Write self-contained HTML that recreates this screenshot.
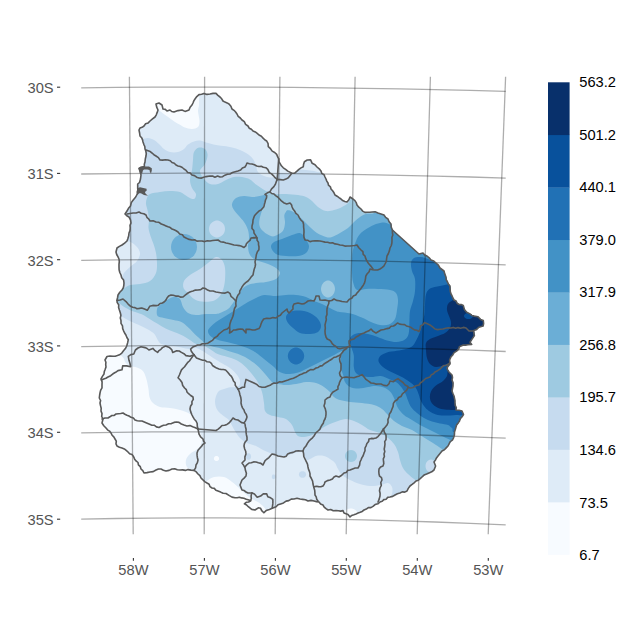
<!DOCTYPE html>
<html><head><meta charset="utf-8"><title>map</title>
<style>html,body{margin:0;padding:0;background:#fff}svg{display:block}text{font-family:"Liberation Sans",Arial,sans-serif}</style>
</head><body>
<svg width="630" height="630" viewBox="0 0 630 630">
<rect width="630" height="630" fill="#fff"/>
<defs><clipPath id="cp"><path d="M127.0,211.0 L130.5,206.0 L131.3,202.6 L133.0,200.2 L135.7,197.0 L137.0,194.5 L138.5,192.5 L137.7,188.5 L137.7,184.0 L139.5,182.5 L140.5,179.0 L141.0,175.0 L140.5,172.5 L139.0,168.5 L141.0,167.3 L144.4,166.5 L145.0,162.0 L146.0,156.0 L145.0,149.0 L143.0,142.0 L140.0,136.0 L139.0,130.0 L140.0,128.0 L144.0,126.0 L150.0,121.0 L155.0,117.0 L158.0,110.0 L156.0,104.0 L159.0,103.0 L162.0,105.0 L163.0,109.0 L167.0,111.0 L170.0,110.0 L174.0,112.0 L178.0,110.6 L182.0,110.0 L185.0,111.4 L189.0,110.0 L192.0,105.0 L195.0,99.0 L199.0,94.6 L204.0,93.4 L210.0,94.0 L216.0,93.4 L220.0,97.0 L223.0,101.0 L229.0,104.0 L232.0,109.0 L237.0,114.0 L242.0,120.0 L248.0,126.0 L253.0,131.0 L259.0,135.0 L265.0,140.0 L266.7,141.0 L268.3,146.7 L272.2,151.1 L276.7,154.4 L278.7,158.9 L280.0,163.3 L283.3,167.8 L287.8,171.1 L291.7,173.3 L294.4,173.3 L298.9,169.4 L303.3,166.7 L304.4,161.7 L307.2,160.0 L310.6,159.8 L312.2,163.3 L317.0,167.0 L321.0,171.0 L325.0,177.0 L328.0,183.0 L331.0,189.0 L335.0,195.0 L341.0,199.0 L347.0,202.0 L350.0,197.0 L353.0,199.0 L357.0,205.0 L361.0,209.0 L365.0,212.4 L372.0,212.0 L378.0,213.0 L384.0,215.0 L388.0,219.0 L391.0,224.0 L392.4,230.0 L419.0,254.0 L423.0,253.0 L427.0,256.0 L431.0,260.0 L436.0,263.0 L440.0,268.0 L444.0,271.0 L446.0,277.0 L447.5,282.0 L450.0,286.0 L451.0,294.0 L454.0,300.0 L459.0,304.5 L463.3,305.5 L464.4,309.4 L466.7,312.2 L470.0,313.9 L474.4,316.1 L477.8,316.7 L480.6,319.4 L483.3,320.6 L483.6,323.5 L483.1,326.1 L478.9,327.2 L476.7,329.4 L473.9,330.6 L474.4,335.6 L472.2,338.9 L470.0,342.2 L471.7,344.4 L467.8,344.7 L463.3,345.0 L459.4,346.7 L457.2,350.6 L453.9,352.8 L451.1,356.7 L449.6,360.0 L450.0,364.0 L447.0,368.0 L449.0,372.0 L452.0,375.0 L452.0,380.0 L453.0,386.0 L452.0,391.0 L454.0,396.0 L455.0,403.0 L456.0,410.0 L462.0,411.0 L463.5,414.5 L459.5,421.0 L456.0,427.0 L454.5,432.0 L453.5,438.0 L448.0,446.0 L442.0,451.0 L438.0,456.0 L434.0,462.0 L435.6,466.0 L434.0,470.0 L429.0,473.0 L422.0,477.0 L416.0,481.0 L410.0,486.0 L407.0,491.0 L400.0,493.0 L390.0,497.0 L380.0,502.0 L373.0,506.4 L364.0,510.0 L356.0,514.0 L350.0,517.0 L348.0,514.5 L344.0,513.0 L343.0,510.6 L336.0,510.6 L328.0,510.0 L323.0,505.0 L319.0,502.0 L314.0,501.0 L308.0,501.0 L300.0,499.0 L294.0,499.0 L286.1,501.1 L280.6,503.9 L276.1,506.7 L272.2,508.3 L269.4,509.4 L266.1,510.6 L263.9,512.8 L261.7,510.6 L260.6,508.3 L258.3,507.8 L255.0,510.0 L251.7,509.4 L248.3,506.7 L244.4,503.9 L250.6,500.8 L248.9,500.0 L243.9,498.3 L239.4,497.2 L235.0,497.8 L229.4,495.6 L226.0,493.5 L218.0,491.0 L212.0,488.0 L207.0,483.0 L201.0,478.0 L198.0,474.0 L194.0,470.4 L188.0,469.6 L180.0,470.0 L172.0,469.0 L166.0,471.0 L161.0,469.0 L156.0,470.0 L150.0,472.0 L144.0,473.0 L141.0,469.0 L138.0,462.5 L133.5,456.5 L128.0,452.0 L122.0,448.0 L117.0,446.0 L115.0,439.0 L111.0,433.0 L106.0,428.0 L102.0,423.0 L103.0,419.0 L101.0,411.0 L100.0,403.0 L100.0,393.0 L102.0,385.0 L101.0,379.0 L104.0,374.0 L106.0,367.0 L105.0,360.0 L107.0,356.5 L113.0,356.3 L119.5,354.8 L123.5,350.8 L126.7,346.0 L128.3,339.7 L125.9,335.0 L122.7,328.6 L121.0,320.6 L120.3,312.7 L118.7,304.8 L117.0,300.0 L118.0,295.0 L122.0,290.0 L124.0,283.0 L121.0,275.0 L119.0,267.0 L119.0,259.0 L116.0,252.0 L117.0,248.0 L122.0,245.0 L127.0,241.0 L129.0,233.0 L131.0,223.0 L129.0,217.0 L125.0,214.0Z"/></clipPath></defs>
<g clip-path="url(#cp)">
<rect x="90" y="85" width="410" height="445" fill="#deebf7"/>
<path d="M156.0,107.5 C157.3,109.3 158.6,109.8 160.0,111.0 C161.4,112.2 162.9,113.3 164.5,114.5 C166.1,115.7 167.8,116.8 169.5,118.0 C171.2,119.2 173.2,120.9 175.0,122.0 C176.8,123.1 178.3,123.9 180.0,124.8 C181.7,125.7 183.0,126.9 185.0,127.6 C187.0,128.3 189.8,129.1 192.0,129.0 C194.2,128.9 196.8,128.3 198.0,127.0 C199.2,125.7 199.5,123.7 199.5,121.0 C199.5,118.3 198.1,113.8 198.0,111.0 C197.9,108.2 199.2,107.2 199.0,104.0 C198.8,100.8 200.2,93.3 197.0,92.0 C193.8,90.7 186.2,95.3 180.0,96.0 C173.8,96.7 164.7,95.3 160.0,96.0 C155.3,96.7 152.7,98.1 152.0,100.0 C151.3,101.9 154.7,105.7 156.0,107.5Z" fill="#f7fbff"/>
<path d="M116.0,352.0 C120.2,350.2 118.8,353.5 120.0,354.5 C121.2,355.5 122.6,356.7 123.5,358.0 C124.4,359.3 124.4,361.2 125.5,362.5 C126.6,363.8 128.1,365.2 130.0,366.0 C131.9,366.8 134.8,366.6 137.0,367.5 C139.2,368.4 141.7,369.4 143.3,371.4 C144.9,373.4 145.6,376.5 146.5,379.4 C147.4,382.3 148.0,386.1 148.5,389.0 C149.0,391.9 148.8,394.7 149.5,397.0 C150.2,399.3 151.2,401.3 153.0,403.0 C154.8,404.7 157.2,406.2 160.0,407.0 C162.8,407.8 166.7,407.5 170.0,408.0 C173.3,408.5 176.7,409.0 180.0,410.0 C183.3,411.0 187.5,412.3 190.0,414.0 C192.5,415.7 193.7,417.7 195.0,420.0 C196.3,422.3 196.8,425.0 198.0,428.0 C199.2,431.0 201.7,435.0 202.0,438.0 C202.3,441.0 201.0,444.0 200.0,446.0 C199.0,448.0 197.7,448.7 196.0,450.0 C194.3,451.3 191.7,452.3 190.0,454.0 C188.3,455.7 186.5,457.8 186.0,460.0 C185.5,462.2 185.7,465.0 187.0,467.0 C188.3,469.0 192.8,469.8 194.0,472.0 C195.2,474.2 204.7,478.7 194.0,480.0 C183.3,481.3 146.5,486.7 130.0,480.0 C113.5,473.3 101.7,453.3 95.0,440.0 C88.3,426.7 90.0,412.5 90.0,400.0 C90.0,387.5 90.7,373.0 95.0,365.0 C99.3,357.0 111.8,353.8 116.0,352.0Z" fill="#f7fbff"/>
<path d="M205.0,484.0 C205.3,481.3 205.5,482.2 207.0,481.0 C208.5,479.8 211.2,477.7 214.0,477.0 C216.8,476.3 221.1,476.2 224.0,477.0 C226.9,477.8 229.3,480.0 231.7,481.7 C234.1,483.4 236.5,485.5 238.3,487.2 C240.2,488.9 241.0,490.0 242.8,491.7 C244.7,493.4 247.4,495.7 249.4,497.2 C251.4,498.7 253.1,499.5 255.0,500.6 C256.9,501.7 258.8,502.3 260.6,503.9 C262.4,505.5 265.1,507.8 266.0,510.0 C266.9,512.2 270.3,516.3 266.0,517.0 C261.7,517.7 250.2,517.3 240.0,514.0 C229.8,510.7 210.8,502.0 205.0,497.0 C199.2,492.0 204.7,486.7 205.0,484.0Z" fill="#f7fbff"/>
<path d="M219.1,458.5 C219.1,459.0 218.9,459.6 218.6,460.0 C218.3,460.4 217.8,460.8 217.3,461.0 C216.8,461.1 216.2,461.1 215.7,461.0 C215.2,460.8 214.7,460.4 214.4,460.0 C214.1,459.6 213.9,459.0 213.9,458.5 C213.9,458.0 214.1,457.4 214.4,457.0 C214.7,456.6 215.2,456.2 215.7,456.0 C216.2,455.9 216.8,455.9 217.3,456.0 C217.8,456.2 218.3,456.6 218.6,457.0 C218.9,457.4 219.1,458.0 219.1,458.5Z" fill="#f7fbff"/>
<path d="M344.0,512.0 C344.0,510.1 348.0,508.8 350.0,508.5 C352.0,508.2 354.7,509.2 356.0,510.5 C357.3,511.8 359.0,514.4 358.0,516.0 C357.0,517.6 352.3,520.7 350.0,520.0 C347.7,519.3 344.0,513.9 344.0,512.0Z" fill="#f7fbff"/>
<path d="M136.0,139.0 C140.6,137.2 140.4,139.2 142.4,139.0 C144.4,138.8 146.1,137.8 148.0,138.0 C149.9,138.2 152.2,139.0 154.0,140.0 C155.8,141.0 157.3,142.5 159.0,144.0 C160.7,145.5 162.2,147.7 164.0,149.0 C165.8,150.3 167.7,151.5 170.0,152.0 C172.3,152.5 175.7,152.5 178.0,152.0 C180.3,151.5 182.3,150.2 184.0,149.0 C185.7,147.8 186.3,145.8 188.0,144.5 C189.7,143.2 192.0,142.1 194.0,141.4 C196.0,140.8 198.0,140.4 200.0,140.6 C202.0,140.8 203.3,141.8 206.0,142.5 C208.7,143.2 212.7,144.4 216.0,145.0 C219.3,145.6 222.7,145.7 226.0,146.3 C229.3,146.9 232.7,147.5 236.0,148.6 C239.3,149.7 243.2,151.3 246.0,153.0 C248.8,154.7 251.3,156.8 253.0,159.0 C254.7,161.2 255.2,163.8 256.0,166.0 C256.8,168.2 256.7,170.3 258.0,172.0 C259.3,173.7 262.0,175.1 264.0,176.0 C266.0,176.9 268.0,177.4 270.0,177.5 C272.0,177.6 274.5,177.2 276.0,176.5 C277.5,175.8 276.3,173.5 279.0,173.0 C281.7,172.5 288.8,174.1 292.0,173.5 C295.2,172.9 295.7,170.2 298.0,169.6 C300.3,169.0 303.3,169.8 306.0,170.0 C308.7,170.2 311.3,170.6 314.0,171.0 C316.7,171.4 319.0,172.7 322.0,172.5 C325.0,172.3 315.7,165.4 332.0,170.0 C348.3,174.6 388.7,178.3 420.0,200.0 C451.3,221.7 503.3,263.3 520.0,300.0 C536.7,336.7 528.3,395.0 520.0,420.0 C511.7,445.0 485.0,438.3 470.0,450.0 C455.0,461.7 442.5,480.8 430.0,490.0 C417.5,499.2 402.5,502.5 395.0,505.0 C387.5,507.5 386.2,505.8 385.0,505.0 C383.8,504.2 386.8,501.8 388.0,500.0 C389.2,498.2 391.3,496.2 392.0,494.0 C392.7,491.8 392.7,488.8 392.0,487.0 C391.3,485.2 389.8,483.3 388.0,483.0 C386.2,482.7 384.0,484.5 381.0,485.0 C378.0,485.5 373.5,486.2 370.0,486.0 C366.5,485.8 363.3,485.0 360.0,484.0 C356.7,483.0 353.0,481.5 350.0,480.0 C347.0,478.5 344.0,476.8 342.0,475.0 C340.0,473.2 339.2,471.0 338.0,469.0 C336.8,467.0 336.3,464.7 335.0,463.0 C333.7,461.3 331.8,460.2 330.0,459.0 C328.2,457.8 326.3,456.5 324.0,456.0 C321.7,455.5 318.7,455.3 316.0,456.0 C313.3,456.7 309.8,459.7 308.0,460.0 C306.2,460.3 306.0,459.3 305.0,458.0 C304.0,456.7 303.8,452.8 302.0,452.0 C300.2,451.2 296.7,452.3 294.0,453.0 C291.3,453.7 288.7,455.5 286.0,456.0 C283.3,456.5 280.7,456.5 278.0,456.0 C275.3,455.5 272.5,454.0 270.0,453.0 C267.5,452.0 265.3,451.2 263.0,450.0 C260.7,448.8 258.7,447.2 256.0,446.0 C253.3,444.8 249.7,444.3 247.0,443.0 C244.3,441.7 242.0,440.0 240.0,438.0 C238.0,436.0 236.7,433.7 235.0,431.0 C233.3,428.3 231.2,424.0 230.0,422.0 C228.8,420.0 229.8,420.8 227.8,419.0 C225.8,417.2 220.1,413.9 218.0,411.0 C215.9,408.1 215.0,404.6 215.0,401.4 C215.0,398.2 216.5,394.1 218.0,392.0 C219.5,389.9 221.9,389.8 224.0,389.0 C226.1,388.2 227.9,387.7 230.3,387.3 C232.7,386.9 236.7,387.6 238.3,386.5 C239.9,385.4 240.3,383.0 240.0,381.0 C239.7,379.0 238.3,376.7 236.7,374.6 C235.1,372.5 232.7,370.2 230.3,368.3 C227.9,366.4 225.1,365.1 222.4,363.5 C219.8,361.9 217.3,360.6 214.4,358.7 C211.5,356.8 207.6,354.0 205.0,352.4 C202.4,350.8 200.8,349.8 199.0,349.0 C197.2,348.2 195.6,347.4 194.0,347.4 C192.4,347.4 191.5,349.0 189.4,349.0 C187.3,349.0 184.1,348.1 181.4,347.6 C178.8,347.1 175.9,346.4 173.5,346.0 C171.1,345.6 169.1,345.6 167.0,345.2 C164.9,344.8 162.4,344.6 160.8,343.7 C159.2,342.8 158.7,341.3 157.6,339.7 C156.5,338.1 156.0,335.7 154.4,334.0 C152.8,332.3 150.4,330.8 148.0,329.4 C145.6,328.0 142.7,326.6 140.0,325.4 C137.3,324.2 134.3,323.1 132.0,322.0 C129.7,320.9 128.0,320.0 126.0,319.0 C124.0,318.0 123.3,316.8 120.3,316.0 C117.3,315.2 111.4,320.0 108.0,314.0 C104.6,308.0 100.5,299.0 100.0,280.0 C99.5,261.0 102.5,221.7 105.0,200.0 C107.5,178.3 109.8,160.2 115.0,150.0 C120.2,139.8 131.4,140.8 136.0,139.0Z" fill="#c6dbef"/>
<path d="M112.0,240.0 C115.0,233.8 124.0,240.0 128.0,241.0 C132.0,242.0 134.0,244.0 136.0,246.0 C138.0,248.0 139.8,250.5 140.0,253.0 C140.2,255.5 138.7,258.7 137.0,261.0 C135.3,263.3 132.2,265.0 130.0,267.0 C127.8,269.0 125.5,271.0 124.0,273.0 C122.5,275.0 123.3,278.2 121.0,279.0 C118.7,279.8 111.5,284.5 110.0,278.0 C108.5,271.5 109.0,246.2 112.0,240.0Z" fill="#deebf7"/>
<path d="M275.4,476.8 C275.4,477.3 275.3,477.8 275.1,478.2 C274.8,478.6 274.5,478.9 274.2,479.1 C273.8,479.2 273.4,479.2 273.0,479.1 C272.7,478.9 272.4,478.6 272.1,478.2 C271.9,477.8 271.8,477.3 271.8,476.8 C271.8,476.3 271.9,475.8 272.1,475.4 C272.4,475.0 272.7,474.7 273.0,474.5 C273.4,474.4 273.8,474.4 274.2,474.5 C274.5,474.7 274.8,475.0 275.1,475.4 C275.3,475.8 275.4,476.3 275.4,476.8Z" fill="#c6dbef"/>
<path d="M306.1,474.5 C306.1,475.2 305.8,476.0 305.4,476.5 C305.0,477.0 304.3,477.5 303.6,477.7 C302.9,477.9 302.1,477.9 301.4,477.7 C300.7,477.5 300.0,477.0 299.6,476.5 C299.2,476.0 298.9,475.2 298.9,474.5 C298.9,473.8 299.2,473.0 299.6,472.5 C300.0,472.0 300.7,471.5 301.4,471.3 C302.1,471.1 302.9,471.1 303.6,471.3 C304.3,471.5 305.0,472.0 305.4,472.5 C305.8,473.0 306.1,473.8 306.1,474.5Z" fill="#c6dbef"/>
<path d="M251.1,456.5 C251.1,457.2 250.9,458.0 250.6,458.5 C250.3,459.0 249.8,459.5 249.3,459.7 C248.8,459.9 248.2,459.9 247.7,459.7 C247.2,459.5 246.7,459.0 246.4,458.5 C246.1,458.0 245.9,457.2 245.9,456.5 C245.9,455.8 246.1,455.0 246.4,454.5 C246.7,454.0 247.2,453.5 247.7,453.3 C248.2,453.1 248.8,453.1 249.3,453.3 C249.8,453.5 250.3,454.0 250.6,454.5 C250.9,455.0 251.1,455.8 251.1,456.5Z" fill="#c6dbef"/>
<path d="M112.0,297.0 C112.5,299.5 116.4,301.2 118.7,303.0 C121.0,304.8 123.8,306.7 126.0,308.0 C128.2,309.3 129.4,309.9 132.0,311.0 C134.6,312.1 138.8,313.0 141.7,314.3 C144.6,315.6 147.0,317.4 149.7,319.0 C152.3,320.6 154.9,322.2 157.6,323.8 C160.2,325.4 162.9,327.3 165.6,328.6 C168.2,329.9 170.9,330.6 173.5,331.7 C176.1,332.8 178.8,333.7 181.4,335.0 C184.1,336.3 187.0,338.2 189.4,339.7 C191.8,341.1 193.6,342.9 195.7,343.7 C197.8,344.5 199.4,343.5 201.7,344.4 C204.0,345.3 207.0,347.4 209.7,349.0 C212.3,350.6 214.7,352.7 217.6,354.0 C220.5,355.3 223.8,355.8 227.0,356.8 C230.2,357.9 233.8,358.8 236.7,360.3 C239.6,361.8 242.1,363.6 244.6,365.9 C247.1,368.1 249.5,371.0 251.7,373.8 C253.9,376.6 256.3,379.5 258.0,382.5 C259.7,385.5 261.0,388.6 262.0,392.0 C263.0,395.4 263.5,399.8 264.0,403.0 C264.5,406.2 264.0,409.0 265.0,411.0 C266.0,413.0 267.8,414.0 270.0,415.0 C272.2,416.0 275.3,416.3 278.0,417.0 C280.7,417.7 283.7,417.7 286.0,419.0 C288.3,420.3 290.5,422.8 292.0,425.0 C293.5,427.2 294.0,430.2 295.0,432.0 C296.0,433.8 296.5,435.2 298.0,436.0 C299.5,436.8 301.7,437.2 304.0,437.0 C306.3,436.8 309.7,436.0 312.0,435.0 C314.3,434.0 316.0,432.3 318.0,431.0 C320.0,429.7 322.0,428.2 324.0,427.0 C326.0,425.8 327.7,425.0 330.0,424.0 C332.3,423.0 335.3,421.8 338.0,421.0 C340.7,420.2 343.3,419.0 346.0,419.0 C348.7,419.0 351.3,420.0 354.0,421.0 C356.7,422.0 359.3,423.5 362.0,425.0 C364.7,426.5 367.0,428.7 370.0,430.0 C373.0,431.3 377.0,431.7 380.0,433.0 C383.0,434.3 385.7,436.2 388.0,438.0 C390.3,439.8 392.3,441.7 394.0,444.0 C395.7,446.3 397.0,449.3 398.0,452.0 C399.0,454.7 399.2,457.3 400.0,460.0 C400.8,462.7 401.7,465.7 403.0,468.0 C404.3,470.3 406.2,472.2 408.0,474.0 C409.8,475.8 412.2,477.8 414.0,479.0 C415.8,480.2 415.5,480.8 419.0,481.0 C422.5,481.2 424.8,486.8 435.0,480.0 C445.2,473.2 465.8,453.3 480.0,440.0 C494.2,426.7 513.3,423.3 520.0,400.0 C526.7,376.7 536.7,335.0 520.0,300.0 C503.3,265.0 446.7,208.3 420.0,190.0 C393.3,171.7 371.3,188.8 360.0,190.0 C348.7,191.2 354.0,194.8 352.0,197.0 C350.0,199.2 349.7,201.3 348.0,203.0 C346.3,204.7 344.3,205.8 342.0,207.0 C339.7,208.2 336.7,209.3 334.0,210.0 C331.3,210.7 328.7,211.5 326.0,211.0 C323.3,210.5 320.3,208.7 318.0,207.0 C315.7,205.3 314.0,202.7 312.0,201.0 C310.0,199.3 308.3,198.0 306.0,197.0 C303.7,196.0 301.3,195.5 298.0,195.0 C294.7,194.5 289.7,194.2 286.0,194.0 C282.3,193.8 279.3,194.5 276.0,194.0 C272.7,193.5 269.3,192.6 266.0,191.0 C262.7,189.4 258.7,186.4 256.0,184.5 C253.3,182.6 252.3,180.8 250.0,179.5 C247.7,178.2 244.7,177.4 242.0,177.0 C239.3,176.6 236.7,176.5 234.0,177.0 C231.3,177.5 228.7,178.8 226.0,180.0 C223.3,181.2 220.7,183.3 218.0,184.0 C215.3,184.7 212.3,184.8 210.0,184.0 C207.7,183.2 205.7,181.2 204.0,179.0 C202.3,176.8 199.8,173.5 200.0,171.0 C200.2,168.5 203.7,166.7 205.0,164.0 C206.3,161.3 207.6,157.5 207.6,155.0 C207.6,152.5 206.4,150.2 205.0,149.0 C203.6,147.8 200.8,147.1 199.0,147.6 C197.2,148.1 195.0,149.9 194.0,152.0 C193.0,154.1 193.3,157.0 193.0,160.0 C192.7,163.0 192.5,166.7 192.0,170.0 C191.5,173.3 190.0,177.0 190.0,180.0 C190.0,183.0 191.0,185.7 192.0,188.0 C193.0,190.3 195.7,192.2 196.0,194.0 C196.3,195.8 195.3,198.5 194.0,199.0 C192.7,199.5 190.3,198.2 188.0,197.0 C185.7,195.8 183.0,193.0 180.0,192.0 C177.0,191.0 173.3,191.0 170.0,191.0 C166.7,191.0 163.3,191.5 160.0,192.0 C156.7,192.5 152.2,193.0 150.0,194.0 C147.8,195.0 147.7,196.3 147.0,198.0 C146.3,199.7 145.8,201.7 146.0,204.0 C146.2,206.3 147.5,209.3 148.0,212.0 C148.5,214.7 148.9,217.3 149.0,220.0 C149.1,222.7 148.2,225.3 148.5,228.0 C148.8,230.7 149.7,233.3 150.5,236.0 C151.3,238.7 152.6,241.2 153.5,244.0 C154.4,246.8 155.4,249.8 156.0,253.0 C156.6,256.2 157.0,259.7 157.0,263.0 C157.0,266.3 157.2,270.0 156.0,273.0 C154.8,276.0 152.7,279.2 150.0,281.0 C147.3,282.8 143.3,283.3 140.0,284.0 C136.7,284.7 132.7,284.3 130.0,285.0 C127.3,285.7 126.3,287.5 124.0,288.0 C121.7,288.5 118.0,286.5 116.0,288.0 C114.0,289.5 111.5,294.5 112.0,297.0Z" fill="#9ecae1"/>
<path d="M225.0,229.0 C225.0,230.2 224.7,231.6 224.2,232.7 C223.7,233.8 222.9,234.9 222.0,235.6 C221.1,236.4 219.9,237.0 218.8,237.3 C217.7,237.6 216.3,237.6 215.2,237.3 C214.1,237.0 212.9,236.4 212.0,235.6 C211.1,234.9 210.3,233.8 209.8,232.7 C209.3,231.6 209.0,230.2 209.0,229.0 C209.0,227.8 209.3,226.4 209.8,225.3 C210.3,224.2 211.1,223.1 212.0,222.4 C212.9,221.6 214.1,221.0 215.2,220.7 C216.3,220.4 217.7,220.4 218.8,220.7 C219.9,221.0 221.1,221.6 222.0,222.4 C222.9,223.1 223.7,224.2 224.2,225.3 C224.7,226.4 225.0,227.8 225.0,229.0Z" fill="#c6dbef"/>
<path d="M216.0,257.0 C218.3,256.5 220.5,258.2 222.0,260.0 C223.5,261.8 224.5,264.7 225.0,268.0 C225.5,271.3 225.3,276.3 225.0,280.0 C224.7,283.7 224.0,287.2 223.0,290.0 C222.0,292.8 220.7,295.2 219.0,297.0 C217.3,298.8 215.8,300.2 213.0,301.0 C210.2,301.8 205.2,301.8 202.0,301.5 C198.8,301.2 196.3,300.4 194.0,299.0 C191.7,297.6 189.8,294.8 188.0,293.0 C186.2,291.2 184.2,290.0 183.5,288.0 C182.8,286.0 182.9,283.2 184.0,281.0 C185.1,278.8 187.3,277.0 190.0,275.0 C192.7,273.0 197.0,271.0 200.0,269.0 C203.0,267.0 205.3,265.0 208.0,263.0 C210.7,261.0 213.7,257.5 216.0,257.0Z" fill="#c6dbef"/>
<path d="M436.5,466.0 C436.5,467.1 436.2,468.3 435.8,469.2 C435.3,470.2 434.5,471.1 433.8,471.6 C433.0,472.2 431.9,472.5 431.0,472.5 C430.1,472.5 429.0,472.2 428.2,471.6 C427.5,471.1 426.7,470.2 426.2,469.2 C425.8,468.3 425.5,467.1 425.5,466.0 C425.5,464.9 425.8,463.7 426.2,462.8 C426.7,461.8 427.5,460.9 428.2,460.4 C429.0,459.8 430.1,459.5 431.0,459.5 C431.9,459.5 433.0,459.8 433.8,460.4 C434.5,460.9 435.3,461.8 435.8,462.8 C436.2,463.7 436.5,464.9 436.5,466.0Z" fill="#c6dbef"/>
<path d="M357.0,456.0 C357.0,457.0 356.7,458.1 356.2,459.0 C355.7,459.9 354.9,460.7 354.0,461.2 C353.1,461.7 352.0,462.0 351.0,462.0 C350.0,462.0 348.9,461.7 348.0,461.2 C347.1,460.7 346.3,459.9 345.8,459.0 C345.3,458.1 345.0,457.0 345.0,456.0 C345.0,455.0 345.3,453.9 345.8,453.0 C346.3,452.1 347.1,451.3 348.0,450.8 C348.9,450.3 350.0,450.0 351.0,450.0 C352.0,450.0 353.1,450.3 354.0,450.8 C354.9,451.3 355.7,452.1 356.2,453.0 C356.7,453.9 357.0,455.0 357.0,456.0Z" fill="#9ecae1"/>
<path d="M380.0,205.0 C369.0,207.2 376.3,211.5 374.0,213.0 C371.7,214.5 368.3,213.3 366.0,214.0 C363.7,214.7 362.0,215.7 360.0,217.0 C358.0,218.3 356.0,220.2 354.0,222.0 C352.0,223.8 350.3,226.2 348.0,228.0 C345.7,229.8 342.7,231.5 340.0,233.0 C337.3,234.5 334.3,236.3 332.0,237.0 C329.7,237.7 328.5,237.7 326.0,237.0 C323.5,236.3 319.5,234.5 317.0,233.0 C314.5,231.5 312.9,229.7 311.0,228.0 C309.1,226.3 307.6,224.7 305.9,223.0 C304.2,221.3 302.9,219.9 300.8,218.0 C298.7,216.1 295.1,213.0 293.0,211.7 C290.9,210.4 289.2,210.3 288.0,210.3 C286.8,210.3 286.6,210.8 286.0,211.7 C285.4,212.6 284.5,213.6 284.3,215.5 C284.1,217.4 285.2,220.4 285.0,223.0 C284.8,225.6 284.2,228.9 283.0,230.8 C281.8,232.7 279.7,233.7 278.0,234.6 C276.3,235.5 274.6,236.5 272.9,236.5 C271.2,236.5 269.5,235.5 267.8,234.6 C266.1,233.7 264.1,232.3 262.7,230.8 C261.3,229.3 260.0,227.6 259.5,225.7 C259.0,223.8 259.1,221.9 259.5,219.4 C259.9,216.9 261.1,213.5 262.0,210.5 C262.9,207.5 263.9,204.3 264.6,201.6 C265.4,198.9 266.9,195.5 266.5,194.5 C266.1,193.5 263.6,195.2 262.0,195.5 C260.4,195.8 258.7,196.2 257.0,196.5 C255.3,196.8 254.2,197.1 252.0,197.0 C249.8,196.9 246.7,195.8 244.0,196.0 C241.3,196.2 238.0,196.7 236.0,198.0 C234.0,199.3 232.3,202.0 232.0,204.0 C231.7,206.0 232.8,208.0 234.0,210.0 C235.2,212.0 237.3,214.0 239.0,216.0 C240.7,218.0 242.5,219.7 244.0,222.0 C245.5,224.3 247.2,227.3 248.0,230.0 C248.8,232.7 249.0,235.2 249.0,238.0 C249.0,240.8 247.8,244.2 248.0,247.0 C248.2,249.8 248.7,252.8 250.0,255.0 C251.3,257.2 253.0,258.5 256.0,260.0 C259.0,261.5 264.7,262.7 268.0,264.0 C271.3,265.3 274.0,266.5 276.0,268.0 C278.0,269.5 280.0,271.2 280.0,273.0 C280.0,274.8 278.3,277.5 276.0,279.0 C273.7,280.5 269.3,281.3 266.0,282.0 C262.7,282.7 259.0,282.5 256.0,283.0 C253.0,283.5 250.3,284.0 248.0,285.0 C245.7,286.0 243.8,287.0 242.0,289.0 C240.2,291.0 238.5,294.7 237.0,297.0 C235.5,299.3 234.5,301.0 233.0,303.0 C231.5,305.0 230.2,307.3 228.0,309.0 C225.8,310.7 222.0,312.2 220.0,313.0 C218.0,313.8 218.3,313.8 216.0,314.0 C213.7,314.2 209.3,313.8 206.0,314.0 C202.7,314.2 199.0,315.2 196.0,315.0 C193.0,314.8 190.2,314.3 188.0,313.0 C185.8,311.7 184.3,309.3 183.0,307.0 C181.7,304.7 181.5,300.7 180.0,299.0 C178.5,297.3 176.2,296.8 174.0,297.0 C171.8,297.2 169.3,298.7 167.0,300.0 C164.7,301.3 161.7,303.5 160.0,305.0 C158.3,306.5 157.4,307.2 157.0,309.0 C156.6,310.8 156.4,314.5 157.6,316.0 C158.8,317.5 161.3,317.3 164.0,318.0 C166.7,318.7 170.6,319.3 173.5,320.0 C176.4,320.7 179.0,320.8 181.4,322.0 C183.8,323.2 186.0,325.4 187.8,327.0 C189.7,328.6 190.9,330.1 192.5,331.7 C194.1,333.3 195.7,335.0 197.3,336.5 C198.9,338.0 200.9,339.5 202.0,340.5 C203.1,341.5 202.5,341.6 204.0,342.5 C205.5,343.4 208.2,345.0 211.0,346.0 C213.8,347.0 217.8,347.5 221.0,348.4 C224.2,349.3 226.8,350.5 230.0,351.6 C233.2,352.7 237.0,353.6 240.0,354.8 C243.0,356.0 245.2,357.1 247.8,358.7 C250.4,360.3 253.3,362.3 255.7,364.3 C258.1,366.3 260.0,368.5 262.0,370.6 C264.0,372.7 265.8,374.9 267.6,377.0 C269.4,379.1 271.3,381.8 273.0,383.0 C274.7,384.2 275.8,383.7 278.0,384.0 C280.2,384.3 283.0,385.0 286.0,385.0 C289.0,385.0 292.7,384.5 296.0,384.0 C299.3,383.5 302.7,382.2 306.0,382.0 C309.3,381.8 313.0,382.2 316.0,383.0 C319.0,383.8 321.7,385.5 324.0,387.0 C326.3,388.5 328.3,390.3 330.0,392.0 C331.7,393.7 332.3,395.7 334.0,397.0 C335.7,398.3 337.3,399.2 340.0,400.0 C342.7,400.8 346.3,401.5 350.0,402.0 C353.7,402.5 358.0,402.5 362.0,403.0 C366.0,403.5 370.7,404.0 374.0,405.0 C377.3,406.0 379.7,407.3 382.0,409.0 C384.3,410.7 386.0,413.0 388.0,415.0 C390.0,417.0 391.7,419.2 394.0,421.0 C396.3,422.8 399.0,424.5 402.0,426.0 C405.0,427.5 409.0,428.5 412.0,430.0 C415.0,431.5 417.3,433.3 420.0,435.0 C422.7,436.7 425.3,438.3 428.0,440.0 C430.7,441.7 433.7,443.5 436.0,445.0 C438.3,446.5 439.7,447.8 442.0,449.0 C444.3,450.2 442.0,455.2 450.0,452.0 C458.0,448.8 478.3,442.0 490.0,430.0 C501.7,418.0 515.0,405.0 520.0,380.0 C525.0,355.0 533.3,310.0 520.0,280.0 C506.7,250.0 463.3,212.5 440.0,200.0 C416.7,187.5 391.0,202.8 380.0,205.0Z" fill="#6baed6"/>
<path d="M197.0,247.0 C197.0,248.7 196.6,250.4 196.0,252.0 C195.4,253.5 194.4,255.0 193.2,256.2 C192.0,257.4 190.5,258.4 189.0,259.0 C187.4,259.6 185.7,260.0 184.0,260.0 C182.3,260.0 180.6,259.6 179.0,259.0 C177.5,258.4 176.0,257.4 174.8,256.2 C173.6,255.0 172.6,253.5 172.0,252.0 C171.4,250.4 171.0,248.7 171.0,247.0 C171.0,245.3 171.4,243.6 172.0,242.0 C172.6,240.5 173.6,239.0 174.8,237.8 C176.0,236.6 177.5,235.6 179.0,235.0 C180.6,234.4 182.3,234.0 184.0,234.0 C185.7,234.0 187.4,234.4 189.0,235.0 C190.5,235.6 192.0,236.6 193.2,237.8 C194.4,239.0 195.4,240.5 196.0,242.0 C196.6,243.6 197.0,245.3 197.0,247.0Z" fill="#6baed6"/>
<path d="M335.0,289.0 C335.0,290.2 334.7,291.6 334.3,292.6 C333.9,293.7 333.2,294.8 332.4,295.6 C331.6,296.3 330.5,296.9 329.6,297.2 C328.6,297.5 327.4,297.5 326.4,297.2 C325.5,296.9 324.4,296.3 323.6,295.6 C322.8,294.8 322.1,293.7 321.7,292.6 C321.3,291.6 321.0,290.2 321.0,289.0 C321.0,287.8 321.3,286.4 321.7,285.4 C322.1,284.3 322.8,283.2 323.6,282.4 C324.4,281.7 325.5,281.1 326.4,280.8 C327.4,280.5 328.6,280.5 329.6,280.8 C330.5,281.1 331.6,281.7 332.4,282.4 C333.2,283.2 333.9,284.3 334.3,285.4 C334.7,286.4 335.0,287.8 335.0,289.0Z" fill="#9ecae1"/>
<path d="M396.0,218.0 C387.8,218.7 393.0,223.3 391.0,224.0 C389.0,224.7 386.5,222.4 384.0,222.4 C381.5,222.4 378.7,223.1 376.0,224.0 C373.3,224.9 370.7,226.3 368.0,228.0 C365.3,229.7 362.0,231.8 360.0,234.0 C358.0,236.2 357.2,238.3 356.0,241.0 C354.8,243.7 353.7,246.7 353.0,250.0 C352.3,253.3 352.2,257.3 352.0,261.0 C351.8,264.7 351.8,268.5 352.0,272.0 C352.2,275.5 352.2,279.0 353.0,282.0 C353.8,285.0 354.8,288.8 357.0,290.0 C359.2,291.2 362.5,289.2 366.0,289.0 C369.5,288.8 374.0,288.8 378.0,289.0 C382.0,289.2 387.0,289.3 390.0,290.0 C393.0,290.7 394.7,291.3 396.0,293.0 C397.3,294.7 397.8,297.2 398.0,300.0 C398.2,302.8 397.5,306.8 397.0,310.0 C396.5,313.2 396.3,316.6 395.0,319.0 C393.7,321.4 391.5,323.5 389.0,324.5 C386.5,325.5 383.0,325.4 380.0,325.0 C377.0,324.6 374.1,323.2 371.0,322.0 C367.9,320.8 365.1,318.9 361.7,317.5 C358.3,316.1 354.3,314.4 350.6,313.5 C346.9,312.6 341.9,312.4 339.5,312.0 C337.1,311.6 337.9,311.8 336.0,311.0 C334.1,310.2 330.3,308.2 328.0,307.0 C325.7,305.8 324.3,305.0 322.0,304.0 C319.7,303.0 316.7,302.2 314.0,301.0 C311.3,299.8 309.0,298.0 306.0,297.0 C303.0,296.0 299.3,295.3 296.0,295.0 C292.7,294.7 289.3,294.8 286.0,295.0 C282.7,295.2 279.7,296.0 276.0,296.0 C272.3,296.0 267.3,294.7 264.0,295.0 C260.7,295.3 258.7,296.8 256.0,298.0 C253.3,299.2 250.7,300.5 248.0,302.0 C245.3,303.5 242.7,305.3 240.0,307.0 C237.3,308.7 234.7,310.3 232.0,312.0 C229.3,313.7 226.7,315.3 224.0,317.0 C221.3,318.7 218.4,320.2 216.0,322.0 C213.6,323.8 211.0,326.2 209.7,327.8 C208.4,329.4 207.8,330.2 208.0,331.7 C208.2,333.1 209.4,335.2 211.0,336.5 C212.6,337.8 214.9,338.8 217.6,339.7 C220.3,340.6 223.8,341.2 227.0,342.0 C230.2,342.8 233.5,343.5 236.7,344.4 C239.9,345.3 242.8,346.3 246.0,347.6 C249.2,348.9 252.8,350.5 255.7,352.4 C258.6,354.2 261.5,356.9 263.7,358.7 C265.9,360.5 267.3,361.6 269.0,363.0 C270.7,364.4 272.5,365.7 274.0,367.0 C275.5,368.3 276.0,369.8 278.0,371.0 C280.0,372.2 283.0,373.7 286.0,374.0 C289.0,374.3 293.0,373.7 296.0,373.0 C299.0,372.3 301.3,371.2 304.0,370.0 C306.7,368.8 309.3,367.3 312.0,366.0 C314.7,364.7 317.3,363.3 320.0,362.0 C322.7,360.7 325.3,359.3 328.0,358.0 C330.7,356.7 333.7,355.1 336.0,354.0 C338.3,352.9 341.2,350.8 342.0,351.5 C342.8,352.2 341.2,355.2 341.0,358.0 C340.8,360.8 340.6,365.0 341.0,368.0 C341.4,371.0 342.8,373.7 343.5,376.0 C344.2,378.3 343.9,380.2 345.0,382.0 C346.1,383.8 347.7,385.9 350.0,387.0 C352.3,388.1 355.6,388.5 358.6,388.5 C361.6,388.5 365.1,387.4 368.0,387.0 C370.9,386.6 373.3,385.9 376.0,386.0 C378.7,386.1 381.7,386.6 384.0,387.5 C386.3,388.4 388.3,389.8 390.0,391.5 C391.7,393.2 392.7,395.2 394.0,398.0 C395.3,400.8 396.3,405.2 398.0,408.0 C399.7,410.8 401.7,413.0 404.0,415.0 C406.3,417.0 409.3,418.3 412.0,420.0 C414.7,421.7 417.3,423.5 420.0,425.0 C422.7,426.5 425.3,427.7 428.0,429.0 C430.7,430.3 433.3,431.7 436.0,433.0 C438.7,434.3 441.3,435.8 444.0,437.0 C446.7,438.2 449.0,439.6 452.0,440.4 C455.0,441.2 454.0,445.4 462.0,442.0 C470.0,438.6 490.3,433.7 500.0,420.0 C509.7,406.3 516.7,383.3 520.0,360.0 C523.3,336.7 533.3,303.3 520.0,280.0 C506.7,256.7 460.7,230.3 440.0,220.0 C419.3,209.7 404.2,217.3 396.0,218.0Z" fill="#4292c6"/>
<path d="M271.0,247.0 C270.7,245.0 272.2,243.3 274.0,242.0 C275.8,240.7 279.0,240.2 282.0,239.0 C285.0,237.8 289.0,236.0 292.0,235.0 C295.0,234.0 297.8,232.5 300.0,233.0 C302.2,233.5 303.5,235.8 305.0,238.0 C306.5,240.2 308.8,243.5 309.0,246.0 C309.2,248.5 307.8,251.3 306.0,253.0 C304.2,254.7 301.3,255.5 298.0,256.0 C294.7,256.5 289.7,256.3 286.0,256.0 C282.3,255.7 278.5,255.5 276.0,254.0 C273.5,252.5 271.3,249.0 271.0,247.0Z" fill="#4292c6"/>
<path d="M436.0,254.0 C429.5,254.0 432.3,259.2 431.0,260.0 C429.7,260.8 429.7,259.5 428.0,259.0 C426.3,258.5 423.3,257.2 421.0,257.0 C418.7,256.8 415.7,257.0 414.0,258.0 C412.3,259.0 411.3,260.8 411.0,263.0 C410.7,265.2 411.3,268.3 412.0,271.0 C412.7,273.7 414.5,275.7 415.0,279.0 C415.5,282.3 415.3,287.3 415.0,291.0 C414.7,294.7 413.8,297.7 413.0,301.0 C412.2,304.3 410.6,307.5 410.0,311.0 C409.4,314.5 409.6,318.2 409.4,322.0 C409.2,325.8 409.4,331.1 408.6,334.0 C407.8,336.9 406.6,338.4 404.6,339.7 C402.6,341.0 399.6,341.9 396.7,342.0 C393.8,342.1 390.2,341.3 387.0,340.5 C383.8,339.7 380.8,338.1 377.6,337.0 C374.4,335.9 371.2,334.7 368.0,334.0 C364.8,333.3 361.3,332.7 358.6,333.0 C355.9,333.3 353.5,334.6 352.0,335.7 C350.5,336.8 349.9,337.7 349.8,339.7 C349.7,341.7 350.7,345.0 351.4,347.6 C352.1,350.2 353.4,352.4 353.8,355.6 C354.2,358.8 353.4,363.8 353.8,366.7 C354.2,369.6 354.7,371.4 356.0,373.0 C357.3,374.6 359.2,375.3 361.7,376.0 C364.2,376.7 367.8,377.0 371.0,377.0 C374.2,377.0 377.6,375.6 380.8,376.0 C384.0,376.4 387.4,378.3 390.0,379.4 C392.6,380.5 394.8,381.2 396.7,382.5 C398.6,383.8 399.9,385.4 401.4,387.3 C402.8,389.2 404.3,391.6 405.4,393.7 C406.5,395.8 406.9,397.8 407.8,400.0 C408.7,402.2 409.5,404.8 411.0,407.0 C412.5,409.2 414.8,411.2 417.0,413.0 C419.2,414.8 421.5,416.6 424.0,418.0 C426.5,419.4 429.3,420.7 432.0,421.6 C434.7,422.5 437.3,423.0 440.0,423.6 C442.7,424.2 446.0,424.3 448.0,425.0 C450.0,425.7 450.3,427.0 452.0,428.0 C453.7,429.0 450.0,434.0 458.0,431.0 C466.0,428.0 489.7,421.8 500.0,410.0 C510.3,398.2 516.7,378.3 520.0,360.0 C523.3,341.7 528.3,316.7 520.0,300.0 C511.7,283.3 484.0,267.7 470.0,260.0 C456.0,252.3 442.5,254.0 436.0,254.0Z" fill="#2171b5"/>
<path d="M286.0,317.0 C286.3,315.2 287.7,313.1 290.0,312.0 C292.3,310.9 296.7,310.4 300.0,310.6 C303.3,310.8 307.0,311.6 310.0,313.0 C313.0,314.4 316.2,316.8 318.0,319.0 C319.8,321.2 321.0,323.8 321.0,326.0 C321.0,328.2 319.8,330.7 318.0,332.0 C316.2,333.3 313.0,333.8 310.0,334.0 C307.0,334.2 302.8,334.0 300.0,333.0 C297.2,332.0 295.0,329.7 293.0,328.0 C291.0,326.3 289.2,324.8 288.0,323.0 C286.8,321.2 285.7,318.8 286.0,317.0Z" fill="#2171b5"/>
<path d="M304.2,356.0 C304.2,357.2 303.9,358.6 303.4,359.6 C302.9,360.7 302.0,361.8 301.1,362.6 C300.2,363.3 299.0,363.9 297.8,364.2 C296.7,364.5 295.3,364.5 294.2,364.2 C293.0,363.9 291.8,363.3 290.9,362.6 C290.0,361.8 289.1,360.7 288.6,359.6 C288.1,358.6 287.8,357.2 287.8,356.0 C287.8,354.8 288.1,353.4 288.6,352.4 C289.1,351.3 290.0,350.2 290.9,349.4 C291.8,348.7 293.0,348.1 294.2,347.8 C295.3,347.5 296.7,347.5 297.8,347.8 C299.0,348.1 300.2,348.7 301.1,349.4 C302.0,350.2 302.9,351.3 303.4,352.4 C303.9,353.4 304.2,354.8 304.2,356.0Z" fill="#2171b5"/>
<path d="M454.0,280.0 C445.5,277.3 451.3,283.0 449.0,284.0 C446.7,285.0 443.2,285.2 440.0,286.0 C436.8,286.8 432.3,287.1 430.0,288.5 C427.7,289.9 426.8,291.8 426.0,294.5 C425.2,297.2 425.2,301.8 425.0,305.0 C424.8,308.2 424.9,310.9 424.5,314.0 C424.1,317.1 423.2,320.5 422.5,323.5 C421.8,326.5 421.0,329.3 420.0,332.0 C419.0,334.7 417.8,337.4 416.5,339.7 C415.2,342.0 414.2,344.4 412.5,346.0 C410.8,347.6 408.6,348.2 406.0,349.0 C403.4,349.8 399.9,350.2 396.7,350.8 C393.5,351.4 389.6,351.6 387.0,352.4 C384.4,353.2 382.2,354.3 380.8,355.6 C379.4,356.9 378.4,358.7 378.4,360.3 C378.4,361.9 379.4,363.4 380.8,365.0 C382.2,366.6 384.9,368.5 387.0,369.8 C389.1,371.1 391.4,372.0 393.5,373.0 C395.6,374.0 397.7,374.9 399.8,376.0 C401.9,377.1 403.9,378.1 406.0,379.4 C408.1,380.7 410.8,382.4 412.5,384.0 C414.2,385.6 415.4,387.1 416.5,388.9 C417.6,390.7 418.2,393.1 418.9,395.0 C419.6,396.9 419.6,398.2 420.5,400.0 C421.4,401.8 422.6,404.2 424.0,406.0 C425.4,407.8 427.0,409.6 429.0,411.0 C431.0,412.4 433.5,413.6 436.0,414.4 C438.5,415.2 440.7,415.5 444.0,415.6 C447.3,415.7 452.0,415.3 456.0,415.0 C460.0,414.7 460.7,416.5 468.0,414.0 C475.3,411.5 491.3,410.7 500.0,400.0 C508.7,389.3 520.0,366.7 520.0,350.0 C520.0,333.3 511.0,311.7 500.0,300.0 C489.0,288.3 462.5,282.7 454.0,280.0Z" fill="#08519c"/>
<path d="M458.0,296.0 C453.5,296.0 454.7,298.7 453.0,300.0 C451.3,301.3 449.0,302.3 448.0,304.0 C447.0,305.7 446.8,308.0 447.0,310.0 C447.2,312.0 448.3,314.0 449.0,316.0 C449.7,318.0 450.8,320.0 451.0,322.0 C451.2,324.0 451.0,326.2 450.0,328.0 C449.0,329.8 447.0,331.7 445.0,333.0 C443.0,334.3 440.5,335.0 438.0,336.0 C435.5,337.0 432.0,337.8 430.0,339.0 C428.0,340.2 426.7,341.2 426.0,343.0 C425.3,344.8 425.8,347.5 426.0,350.0 C426.2,352.5 426.3,355.7 427.0,358.0 C427.7,360.3 428.5,362.5 430.0,364.0 C431.5,365.5 433.8,366.8 436.0,367.0 C438.2,367.2 440.8,366.2 443.0,365.5 C445.2,364.8 446.5,363.9 449.0,363.0 C451.5,362.1 451.2,362.2 458.0,360.0 C464.8,357.8 483.0,356.7 490.0,350.0 C497.0,343.3 501.7,328.3 500.0,320.0 C498.3,311.7 487.0,304.0 480.0,300.0 C473.0,296.0 462.5,296.0 458.0,296.0Z" fill="#08306b"/>
<path d="M473.0,316.0 C473.0,316.6 472.7,317.3 472.1,317.8 C471.6,318.2 470.7,318.7 469.9,318.9 C469.1,319.0 467.9,319.0 467.1,318.9 C466.3,318.7 465.4,318.2 464.9,317.8 C464.3,317.3 464.0,316.6 464.0,316.0 C464.0,315.4 464.3,314.7 464.9,314.2 C465.4,313.8 466.3,313.3 467.1,313.1 C467.9,313.0 469.1,313.0 469.9,313.1 C470.7,313.3 471.6,313.8 472.1,314.2 C472.7,314.7 473.0,315.4 473.0,316.0Z" fill="#08519c"/>
<path d="M452.0,368.0 C449.2,367.7 448.8,368.7 448.0,370.0 C447.2,371.3 447.8,374.2 447.0,376.0 C446.2,377.8 444.8,379.4 443.0,381.0 C441.2,382.6 438.0,383.8 436.0,385.5 C434.0,387.2 432.0,389.3 431.0,391.5 C430.0,393.7 429.7,396.3 430.0,398.5 C430.3,400.7 431.4,402.8 433.0,404.5 C434.6,406.2 437.2,407.6 439.5,408.5 C441.8,409.4 444.2,409.4 447.0,409.7 C449.8,409.9 452.2,409.9 456.0,410.0 C459.8,410.1 466.8,413.3 470.0,410.0 C473.2,406.7 475.8,396.3 475.0,390.0 C474.2,383.7 468.8,375.7 465.0,372.0 C461.2,368.3 454.8,368.3 452.0,368.0Z" fill="#08306b"/>
</g>
<g fill="none" stroke="#000" stroke-opacity="0.32" stroke-width="1.3">
<path d="M129.4,76.8 L133.2,534.3"/>
<path d="M204.6,76.8 L204.2,534.3"/>
<path d="M279.9,76.8 L275.2,534.3"/>
<path d="M355.1,76.8 L346.2,534.3"/>
<path d="M430.4,76.8 L417.2,534.3"/>
<path d="M505.6,76.8 L488.2,534.3"/>
<path d="M81.2,87.8 L116.6,87.4 L151.9,87.2 L187.3,87.1 L222.7,87.1 L258.1,87.2 L293.4,87.4 L328.8,87.8 L364.2,88.3 L399.6,88.9 L434.9,89.6 L470.3,90.4 L505.7,91.4"/>
<path d="M81.2,174.0 L116.6,173.6 L151.9,173.4 L187.3,173.2 L222.7,173.2 L258.1,173.4 L293.4,173.6 L328.8,174.1 L364.2,174.6 L399.6,175.3 L434.9,176.1 L470.3,177.0 L505.7,178.1"/>
<path d="M81.2,260.3 L116.6,259.8 L151.9,259.6 L187.3,259.4 L222.7,259.4 L258.1,259.6 L293.4,259.9 L328.8,260.3 L364.2,260.9 L399.6,261.7 L434.9,262.6 L470.3,263.6 L505.7,264.8"/>
<path d="M81.2,346.6 L116.6,346.1 L151.9,345.7 L187.3,345.6 L222.7,345.6 L258.1,345.7 L293.4,346.1 L328.8,346.6 L364.2,347.2 L399.6,348.1 L434.9,349.0 L470.3,350.2 L505.7,351.5"/>
<path d="M81.2,432.8 L116.6,432.3 L151.9,431.9 L187.3,431.8 L222.7,431.8 L258.1,431.9 L293.4,432.3 L328.8,432.8 L364.2,433.5 L399.6,434.4 L434.9,435.5 L470.3,436.8 L505.7,438.2"/>
<path d="M81.2,519.1 L116.6,518.5 L151.9,518.1 L187.3,517.9 L222.7,517.9 L258.1,518.1 L293.4,518.5 L328.8,519.1 L364.2,519.9 L399.6,520.8 L434.9,522.0 L470.3,523.3 L505.7,524.9"/>
</g>
<g fill="none" stroke="#595959" stroke-width="1.6" stroke-linejoin="round" stroke-linecap="round">
<path d="M146.0,150.0 L148.1,150.8 L150.2,151.6 L152.0,153.0 L153.9,154.7 L156.0,156.0 L158.4,157.6 L160.0,160.0 L162.7,160.1 L165.3,159.8 L168.0,160.0 L170.3,160.7 L172.0,162.5 L174.3,163.2 L176.0,165.0 L178.0,165.9 L180.3,166.5 L182.3,167.5 L184.0,169.0 L186.1,170.4 L187.7,172.4 L190.3,173.1 L192.0,175.0 L194.5,175.6 L196.6,177.2 L199.0,178.0 L201.5,178.1 L203.7,177.2 L206.0,176.6 L210.0,176.0 L212.5,176.1 L214.9,177.2 L217.6,176.1 L220.0,177.0 L222.6,176.7 L224.9,175.2 L227.4,174.3 L230.0,174.0 L232.5,172.5 L235.2,171.7 L238.0,171.0 L240.6,170.1 L242.4,167.9 L245.0,167.0 L246.1,165.1 L247.0,163.0 L249.5,163.7 L252.0,164.0 L254.4,164.8 L256.7,166.0 L258.9,166.5 L261.2,166.2 L263.3,167.2 L265.8,167.7 L267.8,169.4 L269.4,172.8 L271.6,173.9 L273.3,175.6 L275.1,177.7 L277.2,179.4"/>
<path d="M278.7,158.9 L277.2,179.4"/>
<path d="M291.7,173.3 L290.1,175.6 L288.3,177.8 L285.9,179.1 L283.3,180.0 L280.3,179.6 L277.2,179.4"/>
<path d="M277.2,179.4 L276.2,181.9 L275.3,184.4 L273.9,186.7 L271.6,188.9 L270.0,191.7 L267.4,192.8 L265.0,194.4 L266.7,195.6 L266.5,197.9 L265.5,200.0 L265.0,202.2 L264.4,204.4 L263.9,206.7 L261.1,210.0 L259.0,211.0 L256.0,214.0 L254.5,215.8 L253.7,217.9 L253.0,220.0 L252.8,223.0 L252.0,226.0 L252.0,228.5 L253.8,230.5 L254.0,233.0 L255.6,235.4 L257.0,238.0 L257.1,240.3 L258.5,242.4 L258.5,244.7 L259.0,247.0 L258.9,249.7 L257.3,251.9 L256.4,254.4 L256.0,257.0 L255.6,259.5 L255.0,261.9 L255.5,264.5 L255.0,267.0 L254.1,269.6 L253.5,272.3 L253.0,275.0 L251.2,276.9 L249.7,279.0 L248.0,281.0 L245.7,282.7 L243.6,284.6 L242.0,287.0 L241.0,289.0 L239.8,290.9 L239.6,293.3 L238.0,295.0 L236.7,297.9 L236.0,301.0 L235.8,303.5 L236.0,306.0 L234.5,308.5 L233.9,311.2 L233.5,314.0 L232.9,316.3 L232.0,318.5 L231.0,320.6 L230.0,323.7 L229.5,327.0 L227.1,329.1 L224.0,330.0 L221.5,332.0 L219.0,334.0 L217.0,336.4 L214.4,338.0 L212.4,340.4 L209.7,342.0 L207.6,343.4 L205.0,343.7"/>
<path d="M270.0,192.0 L271.7,193.5 L274.0,194.0 L275.6,195.6 L277.7,197.0 L279.4,198.8 L281.1,200.6 L283.6,202.7 L286.7,203.9 L290.0,203.0 L291.5,204.7 L292.1,207.0 L293.0,209.0 L294.6,211.0 L295.9,213.3 L298.0,215.0 L299.3,217.6 L300.9,220.0 L303.0,222.0 L303.6,224.5 L303.6,227.0 L303.9,229.5 L304.0,232.0 L303.8,234.7 L304.0,237.4 L305.0,240.0 L307.6,240.3 L310.0,241.6 L312.5,241.0 L315.0,240.9 L317.5,240.8 L320.0,241.0 L322.5,241.5 L325.0,242.1 L327.6,242.2 L330.0,243.0 L332.6,242.8 L335.0,243.9 L337.5,244.3 L340.0,245.0 L342.5,245.3 L344.9,246.1 L347.5,246.0 L350.0,246.0 L352.3,245.7 L354.7,245.5 L357.0,245.0 L358.8,247.7 L361.0,250.0 L362.9,251.7 L363.2,254.3 L365.0,256.0 L365.6,258.2 L366.5,260.2 L367.6,262.2 L369.0,264.0 L371.1,266.4 L373.0,269.0"/>
<path d="M392.4,230.0 L392.4,232.5 L392.8,235.0 L391.9,237.5 L392.0,240.0 L391.9,242.8 L391.3,245.5 L390.0,248.0 L389.4,250.8 L388.4,253.5 L387.0,256.0 L386.6,258.7 L386.3,261.5 L385.0,264.0 L383.8,266.2 L382.0,267.7 L380.0,269.0 L377.6,270.0 L375.0,270.0 L372.5,269.7 L370.0,269.0 L369.1,271.8 L367.0,274.0 L365.8,276.2 L365.5,278.6 L365.0,281.0 L364.4,283.2 L363.3,285.2 L362.0,287.0 L360.5,289.1 L358.8,291.1 L357.0,293.0 L355.7,295.0 L353.3,296.0 L352.0,298.0 L349.1,299.5 L347.0,302.0 L344.5,301.8 L342.0,301.5 L339.3,300.7 L336.5,300.4 L334.0,299.0 L331.7,300.5 L329.0,301.0"/>
<path d="M329.0,301.0 L325.0,300.0 L322.5,300.2 L320.0,300.0 L319.0,296.0 L316.0,296.0 L315.3,298.6 L314.0,301.0 L311.0,300.5 L308.0,301.0 L306.2,302.4 L304.3,303.6 L302.0,304.0 L298.0,303.0 L294.0,304.0 L292.9,306.4 L293.0,309.0 L291.0,311.0 L289.0,313.0 L287.6,311.2 L287.0,309.0 L284.5,311.0 L282.0,313.0 L280.4,315.2 L278.0,316.3 L276.0,318.0 L272.9,317.6 L270.0,318.5 L266.8,318.2 L263.7,319.0 L262.1,321.4 L261.0,324.0 L260.3,326.4 L259.0,328.6 L256.9,329.2 L254.8,330.0 L252.5,330.0 L249.3,329.3 L246.0,329.4 L246.0,333.0 L244.5,331.2 L243.0,329.4 L240.5,329.0 L238.0,329.4 L235.8,329.9 L233.5,330.0 L231.7,331.8 L229.5,333.0 L229.9,330.0 L229.5,327.0"/>
<path d="M205.0,343.7 L202.3,343.7 L200.0,345.0 L197.6,345.0 L195.4,346.0 L192.8,347.1 L190.6,349.0 L191.3,351.2 L192.6,353.0 L194.0,354.8"/>
<path d="M329.0,301.0 L328.7,303.8 L327.6,306.3 L327.0,309.0 L326.9,311.7 L327.0,314.4 L326.0,317.0 L326.3,319.7 L325.6,322.4 L325.0,325.0 L325.3,328.0 L325.0,331.0 L325.2,334.0 L326.0,337.0 L327.2,339.0 L329.4,339.9 L331.0,341.5 L332.2,343.6 L333.9,345.3 L336.0,346.5 L337.7,348.2 L340.0,348.7 L343.0,348.0 L346.0,347.6 L350.0,346.0"/>
<path d="M350.0,346.0 L349.1,343.6 L349.0,341.0 L351.4,339.6 L354.0,339.0 L356.1,337.0 L358.6,335.7 L361.1,334.0 L364.0,333.0 L366.4,331.8 L368.9,330.8 L371.0,329.0 L373.2,331.4 L376.0,333.0 L378.5,331.5 L381.0,330.0 L384.0,329.5 L387.0,328.6 L389.3,328.1 L391.1,326.3 L393.5,326.0 L395.6,324.7 L397.5,323.0 L399.7,324.1 L402.1,324.5 L404.6,324.6 L406.4,325.9 L408.6,326.6 L410.7,327.2 L412.5,328.6 L414.5,329.9 L416.9,330.3 L419.0,331.5 L420.2,328.9 L420.5,326.0 L422.9,324.8 L424.4,322.6 L427.3,323.7 L430.0,325.0 L432.6,326.9 L435.0,329.0 L437.7,329.6 L440.3,329.3 L443.0,329.0 L445.6,328.2 L448.3,327.8 L451.0,328.0 L453.3,327.4 L455.7,328.3 L458.0,327.6 L460.6,328.2 L463.4,327.4 L466.0,328.0 L469.0,331.0 L473.0,331.0"/>
<path d="M350.0,346.0 L347.7,347.1 L346.0,349.0 L343.9,350.2 L342.5,352.2 L341.0,354.0 L340.4,356.4 L339.5,358.7 L339.9,361.4 L341.0,363.9 L341.0,366.7 L340.9,370.0 L339.5,373.0 L340.2,375.7 L342.0,377.8 L340.6,380.1 L339.5,382.5 L339.0,384.7 L337.9,386.7 L338.0,389.0 L335.5,390.6 L333.0,392.0 L331.1,394.2 L330.0,397.0 L327.3,398.1 L325.0,400.0 L324.9,403.1 L324.0,406.0 L325.3,408.9 L326.0,412.0 L326.0,414.4 L325.7,416.7 L325.0,419.0 L323.9,420.9 L323.3,423.2 L322.0,425.0 L320.8,427.1 L319.8,429.3 L318.0,431.0 L315.6,433.1 L314.0,436.0 L312.5,437.8 L310.7,439.4 L309.0,441.0 L307.4,443.4 L306.0,446.0 L304.0,448.2 L303.0,451.0"/>
<path d="M340.0,355.0 L338.0,356.1 L336.0,357.0 L333.7,357.5 L332.0,359.0 L330.0,360.2 L328.0,361.5 L326.0,362.7 L324.0,364.0 L322.3,365.6 L320.0,366.1 L318.2,367.4 L316.0,368.0 L313.6,369.7 L310.5,369.6 L308.0,371.0 L306.2,372.4 L304.0,373.0 L302.0,374.0 L299.9,374.7 L298.0,375.9 L296.0,377.0 L293.4,378.2 L290.7,379.0 L288.0,380.0 L285.0,380.9 L282.0,382.0 L279.3,381.9 L276.7,383.2 L274.0,383.0 L272.0,383.9 L270.2,385.3 L268.0,386.0 L265.0,387.3 L262.0,387.2 L259.0,386.5 L256.7,384.4 L254.0,383.0 L251.7,382.0 L249.4,381.0 L246.0,379.4 L245.4,382.0 L244.7,384.6 L244.6,387.3 L242.3,387.3 L240.2,388.5 L238.0,389.0"/>
<path d="M342.0,377.8 L346.0,377.0 L348.7,377.4 L351.3,377.5 L354.0,377.8 L356.7,376.7 L359.4,375.9 L362.0,374.6 L364.1,377.0 L366.0,379.4 L368.5,381.2 L371.0,383.0 L373.5,383.2 L375.9,384.1 L378.5,384.0 L381.0,384.0 L383.9,385.4 L387.0,385.7 L389.0,383.7 L390.0,381.0 L393.5,381.7 L395.6,379.9 L398.0,378.6 L400.4,380.6 L403.0,382.5 L405.1,385.0 L408.0,386.5"/>
<path d="M408.0,387.5 L410.5,388.0 L413.0,387.5 L415.8,385.8 L419.0,385.0 L420.3,383.0 L422.3,381.6 L424.0,380.0 L425.7,378.5 L427.8,377.7 L430.0,377.0 L431.2,374.9 L433.5,373.8 L435.0,372.0 L437.6,370.7 L440.0,369.1 L442.0,367.0 L443.8,365.6 L446.1,365.3 L448.1,364.2 L450.0,363.0"/>
<path d="M408.0,387.5 L406.7,390.1 L404.6,392.0 L402.4,393.9 L401.0,396.5 L398.6,397.5 L397.2,399.8 L395.0,401.0 L393.4,403.4 L393.1,406.4 L392.0,409.0 L391.0,411.7 L389.4,414.1 L389.0,417.0 L387.9,419.6 L388.1,422.4 L387.0,425.0 L385.3,427.1 L383.5,429.0"/>
<path d="M383.5,429.0 L382.2,431.0 L381.0,433.0 L379.5,434.8 L378.0,436.6 L376.0,438.0 L373.7,438.6 L371.3,438.4 L369.0,439.0 L368.6,441.5 L366.9,443.5 L366.1,445.8 L365.0,448.0 L365.0,450.8 L363.9,453.4 L363.0,456.0 L361.8,457.9 L361.0,460.0 L360.0,462.0 L359.6,465.2 L358.0,468.0 L355.2,468.0 L352.6,468.9 L350.0,470.0 L347.7,470.4 L346.2,472.5 L344.0,473.0 L341.7,475.3 L339.0,477.0 L336.0,476.0 L334.0,477.0 L332.4,479.0 L330.0,480.0 L327.4,480.6 L325.0,482.0 L324.3,484.1 L323.0,486.0 L320.8,486.8 L318.5,486.6 L316.2,486.2 L314.0,487.0"/>
<path d="M383.5,429.0 L384.3,432.2 L386.0,435.0 L386.1,437.3 L386.0,439.6 L384.7,441.7 L385.0,444.0 L384.7,446.5 L384.2,449.0 L384.8,451.6 L384.0,454.0 L384.4,456.5 L383.3,458.8 L383.5,461.2 L383.8,463.6 L383.0,466.0 L380.6,467.0 L379.0,469.0 L378.8,471.5 L379.0,474.0 L379.6,476.2 L381.5,477.7 L382.0,480.0 L380.8,482.5 L381.3,485.5 L380.0,488.0 L379.5,490.7 L380.1,493.3 L380.0,496.0 L379.2,499.1 L378.0,502.0"/>
<path d="M303.0,451.0 L303.6,453.7 L303.8,456.5 L305.0,459.0 L306.3,461.6 L307.5,464.2 L308.0,467.0 L308.5,469.3 L309.4,471.4 L310.0,473.6 L310.0,476.0 L311.4,478.5 L312.6,481.1 L313.0,484.0 L314.0,488.0 L314.7,490.3 L314.9,492.6 L315.0,495.0 L316.2,496.9 L316.7,499.2 L318.0,501.0"/>
<path d="M245.0,467.0 L246.8,464.8 L249.0,463.0 L251.3,462.7 L253.6,461.9 L256.0,462.0 L258.4,462.8 L260.9,463.4 L263.0,465.0 L264.0,462.8 L265.1,460.6 L267.0,459.0 L268.9,457.6 L270.4,455.7 L272.0,454.0 L275.1,454.6 L278.0,456.0 L281.0,456.5 L284.0,457.0 L286.3,456.2 L287.7,453.9 L290.0,453.0 L293.1,452.4 L296.0,451.0 L298.3,450.9 L300.7,451.0 L303.0,451.0"/>
<path d="M250.6,500.8 L251.3,498.5 L251.1,496.1 L251.7,492.8 L254.4,493.9 L257.2,497.2 L260.6,496.1 L263.3,493.9 L266.7,493.9 L267.8,496.7 L270.6,497.8 L272.8,499.4 L272.9,501.6 L272.8,503.9 L272.5,506.1 L272.2,508.3"/>
<path d="M194.0,354.8 L196.5,358.0 L200.5,359.5 L202.7,360.2 L205.0,360.3 L207.1,361.8 L209.7,362.0 L211.4,363.4 L212.5,365.5 L214.4,366.7 L216.6,368.1 L219.0,369.0 L221.2,369.5 L223.4,369.5 L225.6,370.0 L227.7,372.2 L229.5,374.6 L231.4,376.4 L232.6,378.6 L233.5,381.0 L235.1,382.8 L235.3,385.4 L236.7,387.3 L238.0,389.0"/>
<path d="M238.0,389.0 L239.3,391.9 L240.0,395.0 L240.8,397.6 L241.2,400.3 L241.0,403.0 L241.6,405.5 L242.5,407.9 L244.0,410.0 L244.8,412.4 L246.3,414.5 L247.0,417.0 L246.3,419.2 L245.3,421.1 L244.0,423.0 L245.0,424.0 L245.4,426.7 L246.1,429.3 L246.0,432.0 L246.4,434.7 L247.0,437.3 L247.0,440.0 L245.4,441.7 L244.4,443.7 L244.0,446.0 L244.6,448.7 L245.7,451.2 L246.0,454.0 L244.9,456.9 L245.0,460.0 L242.0,463.0 L243.7,465.4 L245.0,468.0 L245.5,470.6 L246.4,473.2 L246.0,476.0 L244.1,478.1 L242.0,480.0 L241.0,482.5 L240.0,485.0 L241.0,487.5 L242.0,490.0 L244.2,490.6 L246.0,492.0 L248.0,493.0 L252.0,493.0"/>
<path d="M244.0,423.0 L241.7,422.6 L239.9,421.3 L238.0,420.0 L235.3,419.5 L233.0,418.0 L231.1,420.6 L229.0,423.0 L226.9,424.4 L224.6,425.3 L222.0,425.5 L220.2,427.4 L218.2,429.1 L216.0,430.5 L198.0,429.0"/>
<path d="M194.0,354.8 L192.4,356.8 L190.9,358.9 L189.4,361.0 L187.5,362.7 L186.0,364.7 L184.6,366.7 L183.0,368.3 L181.5,369.9 L180.6,372.0 L179.4,375.0 L178.0,377.8 L180.2,380.0 L182.0,382.5 L182.7,385.5 L184.6,388.0 L186.3,389.6 L187.0,392.0 L188.6,393.7 L190.7,395.5 L193.0,397.0 L193.3,399.4 L191.9,401.6 L192.0,404.0 L190.5,406.3 L190.0,409.0 L190.8,412.1 L192.0,415.0 L193.1,417.2 L194.3,419.2 L196.0,421.0 L197.2,423.5 L197.3,426.3 L198.0,429.0"/>
<path d="M198.0,429.0 L198.5,431.5 L199.0,434.0 L200.6,436.8 L203.0,439.0 L203.6,441.2 L205.0,443.0 L203.0,444.3 L201.6,446.3 L200.0,448.0 L198.0,450.2 L197.0,453.0 L197.1,455.4 L197.4,457.7 L198.0,460.0 L197.4,462.6 L196.0,465.0 L195.6,467.9 L194.0,470.4"/>
<path d="M102.0,419.0 L104.9,418.0 L108.0,418.0 L109.9,416.8 L111.8,415.5 L114.2,415.4 L116.0,414.0 L118.3,413.7 L120.7,413.5 L123.0,413.0 L124.9,414.2 L126.9,415.2 L129.0,416.0 L131.0,417.3 L133.4,418.1 L135.0,420.0 L137.3,420.7 L139.6,421.0 L142.0,421.0 L144.3,422.0 L146.6,423.0 L149.0,424.0 L151.4,425.1 L154.2,425.2 L156.4,426.9 L159.0,427.5 L161.2,426.3 L163.5,425.3 L166.0,425.0 L168.6,423.8 L171.4,423.6 L174.0,422.4 L176.5,422.0 L179.0,422.4 L181.3,424.0 L184.0,425.0 L186.9,426.0 L190.0,425.6 L192.7,426.7 L195.4,427.7 L198.0,429.0"/>
<path d="M101.5,380.0 L103.7,379.0 L105.9,378.2 L108.0,377.0 L110.7,375.7 L113.0,373.8 L115.6,372.3 L118.0,370.6 L122.0,369.8 L122.7,365.9 L126.7,365.9 L130.6,366.7 L130.0,363.5 L129.0,360.3 L128.3,356.3 L130.8,354.6 L133.8,354.0 L135.4,350.0 L138.0,348.0 L141.0,346.8 L145.0,347.6 L147.1,348.5 L148.9,350.0 L152.9,348.4 L155.0,350.7 L157.6,352.4 L159.0,350.6 L160.9,349.3 L162.4,347.6 L165.6,346.0 L169.5,347.6 L171.7,349.6 L172.7,352.4 L176.7,350.8 L179.2,351.0 L181.4,352.4 L183.9,353.7 L186.0,355.6 L190.0,356.3 L194.0,354.8"/>
<path d="M117.0,300.5 L120.1,300.0 L123.0,299.0 L126.0,301.6 L128.1,304.1 L130.6,306.3 L132.6,307.3 L135.0,307.6 L137.0,308.7 L139.4,308.4 L141.7,308.0 L144.5,309.1 L147.3,310.3 L148.5,308.3 L149.7,306.3 L152.8,305.4 L156.0,305.6 L158.3,305.2 L160.1,303.5 L162.4,303.0 L164.4,301.8 L165.9,300.1 L167.0,298.0 L168.6,296.0 L171.0,295.0 L173.3,295.3 L175.6,296.1 L178.0,296.0 L180.4,297.1 L183.0,297.0 L185.5,294.9 L188.0,293.0 L190.4,291.7 L193.0,291.0 L195.4,290.1 L198.0,290.0 L200.7,289.6 L203.0,288.0 L205.5,288.6 L207.6,290.1 L210.0,291.0 L213.1,291.0 L216.0,292.0 L219.0,292.5 L222.0,293.0 L225.1,293.1 L228.0,292.0 L230.1,293.7 L231.0,296.3 L233.0,298.0 L236.0,301.0"/>
<path d="M127.0,214.0 L130.0,213.5 L133.0,213.0 L136.1,213.0 L139.0,212.0 L141.2,213.3 L143.8,213.7 L146.0,215.0 L146.9,217.3 L148.7,219.0 L150.0,221.0 L153.1,220.8 L156.0,222.0 L158.9,222.3 L161.3,224.0 L164.0,225.0 L166.0,225.9 L168.1,226.8 L170.2,227.6 L172.0,229.0 L174.1,229.8 L176.1,230.8 L178.0,232.0 L179.7,234.0 L182.4,234.8 L184.0,237.0 L186.5,238.3 L189.2,239.4 L192.0,240.0 L194.6,239.7 L196.9,241.1 L199.5,241.0 L202.0,241.0 L204.7,241.6 L207.3,240.7 L210.0,241.0 L212.6,240.5 L215.3,240.2 L218.0,240.0 L220.4,241.7 L223.3,242.1 L226.0,243.0 L228.7,243.5 L231.4,244.2 L234.0,245.0 L236.6,245.3 L239.2,245.6 L241.6,246.3 L244.0,247.5 L245.7,245.9 L246.4,243.7 L248.0,242.0 L250.0,240.4 L251.0,238.0 L254.0,237.6 L257.0,238.0"/>
<path d="M127.0,211.0 L128.5,208.3 L130.5,206.0 L131.3,202.6 L133.0,200.2 L135.7,197.0 L137.0,194.5 L138.5,192.5 L137.7,188.5 L137.7,186.2 L137.7,184.0 L139.5,182.5 L140.5,179.0 L141.0,175.0 L140.5,172.5 L139.0,168.5 L141.0,167.3 L144.4,166.5 L144.3,164.2 L145.0,162.0 L145.3,159.0 L146.0,156.0 L146.3,153.6 L145.9,151.3 L145.0,149.0 L144.8,146.5 L143.8,144.3 L143.0,142.0 L142.5,139.7 L141.6,137.7 L140.0,136.0 L139.6,133.0 L139.0,130.0 L140.0,128.0 L142.1,127.3 L144.0,126.0 L145.6,123.8 L148.2,122.9 L150.0,121.0 L152.5,118.9 L155.0,117.0 L156.3,114.8 L157.2,112.4 L158.0,110.0 L156.7,107.1 L156.0,104.0 L159.0,103.0 L162.0,105.0 L163.0,109.0 L165.3,109.4 L167.0,111.0 L170.0,110.0 L171.7,111.5 L174.0,112.0 L178.0,110.6 L182.0,110.0 L185.0,111.4 L189.0,110.0 L190.1,107.2 L192.0,105.0 L193.0,103.0 L193.8,100.9 L195.0,99.0 L196.8,96.6 L199.0,94.6 L201.6,94.3 L204.0,93.4 L206.9,94.4 L210.0,94.0 L213.0,93.4 L216.0,93.4 L217.9,95.4 L220.0,97.0 L221.7,98.8 L223.0,101.0 L225.0,102.1 L227.1,102.9 L229.0,104.0 L230.9,106.3 L232.0,109.0 L234.0,110.3 L235.6,112.0 L237.0,114.0 L238.2,116.4 L240.3,118.0 L242.0,120.0 L244.3,121.7 L245.6,124.4 L248.0,126.0 L249.2,128.2 L251.4,129.3 L253.0,131.0 L255.3,131.9 L257.2,133.3 L259.0,135.0 L261.4,136.2 L263.1,138.2 L265.0,140.0 L266.7,141.0 L268.1,143.7 L268.3,146.7 L270.5,148.7 L272.2,151.1 L274.7,152.5 L276.7,154.4 L277.6,156.7 L278.7,158.9 L278.8,161.3 L280.0,163.3 L281.4,165.8 L283.3,167.8 L285.6,169.4 L287.8,171.1 L289.8,172.1 L291.7,173.3 L294.4,173.3 L296.7,171.4 L298.9,169.4 L301.0,167.9 L303.3,166.7 L303.6,164.2 L304.4,161.7 L307.2,160.0 L310.6,159.8 L312.2,163.3 L315.0,164.7 L317.0,167.0 L319.2,168.8 L321.0,171.0 L321.8,173.4 L324.1,174.7 L325.0,177.0 L326.0,179.0 L326.8,181.1 L328.0,183.0 L328.5,185.2 L330.4,186.8 L331.0,189.0 L332.6,190.8 L334.0,192.8 L335.0,195.0 L337.1,196.2 L339.0,197.6 L341.0,199.0 L342.7,200.6 L344.8,201.4 L347.0,202.0 L348.9,199.8 L350.0,197.0 L353.0,199.0 L354.9,200.6 L356.2,202.6 L357.0,205.0 L358.8,207.2 L361.0,209.0 L362.6,211.1 L365.0,212.4 L367.3,212.2 L369.7,212.3 L372.0,212.0 L375.1,211.8 L378.0,213.0 L381.0,213.9 L384.0,215.0 L385.6,217.4 L388.0,219.0 L389.1,221.7 L391.0,224.0 L391.2,227.1 L392.4,230.0 L419.0,254.0 L423.0,253.0 L424.6,255.0 L427.0,256.0 L429.2,257.8 L431.0,260.0 L433.8,261.0 L436.0,263.0 L438.4,265.2 L440.0,268.0 L442.0,269.5 L444.0,271.0 L444.8,274.1 L446.0,277.0 L446.2,279.7 L447.5,282.0 L448.5,284.2 L450.0,286.0 L450.1,288.7 L450.3,291.4 L451.0,294.0 L452.1,296.0 L452.9,298.0 L454.0,300.0 L456.1,301.0 L457.1,303.3 L459.0,304.5 L461.2,304.6 L463.3,305.5 L464.4,309.4 L466.7,312.2 L470.0,313.9 L471.9,315.5 L474.4,316.1 L477.8,316.7 L480.6,319.4 L483.3,320.6 L483.6,323.5 L483.1,326.1 L478.9,327.2 L476.7,329.4 L473.9,330.6 L473.9,333.1 L474.4,335.6 L472.2,338.9 L470.0,342.2 L471.7,344.4 L467.8,344.7 L465.6,345.1 L463.3,345.0 L459.4,346.7 L458.8,348.9 L457.2,350.6 L453.9,352.8 L452.8,355.0 L451.1,356.7 L449.6,360.0 L450.0,364.0 L448.3,365.9 L447.0,368.0 L447.8,370.1 L449.0,372.0 L452.0,375.0 L452.5,377.5 L452.0,380.0 L453.1,382.9 L453.0,386.0 L452.5,388.5 L452.0,391.0 L452.9,393.5 L454.0,396.0 L454.5,398.3 L455.0,400.6 L455.0,403.0 L455.2,405.4 L456.3,407.6 L456.0,410.0 L459.0,410.2 L462.0,411.0 L463.5,414.5 L462.2,416.7 L460.3,418.5 L459.5,421.0 L458.2,422.9 L456.7,424.7 L456.0,427.0 L455.3,429.5 L454.5,432.0 L454.4,435.1 L453.5,438.0 L452.4,440.2 L450.2,441.6 L449.1,443.8 L448.0,446.0 L446.2,447.9 L444.4,449.8 L442.0,451.0 L440.0,453.5 L438.0,456.0 L436.5,457.9 L435.4,460.1 L434.0,462.0 L435.6,466.0 L434.0,470.0 L431.7,471.8 L429.0,473.0 L426.6,474.1 L424.0,475.1 L422.0,477.0 L420.2,478.7 L418.4,480.2 L416.0,481.0 L414.1,482.8 L412.1,484.4 L410.0,486.0 L408.3,488.4 L407.0,491.0 L404.8,492.1 L402.2,491.9 L400.0,493.0 L397.4,493.7 L395.0,495.0 L392.7,496.4 L390.0,497.0 L387.7,497.4 L386.1,499.2 L383.8,499.6 L382.2,501.3 L380.0,502.0 L377.9,503.8 L375.1,504.6 L373.0,506.4 L370.9,507.6 L368.3,507.6 L366.3,509.1 L364.0,510.0 L362.2,511.4 L360.2,512.3 L358.1,513.1 L356.0,514.0 L353.9,514.8 L351.7,515.4 L350.0,517.0 L348.0,514.5 L344.0,513.0 L343.0,510.6 L340.7,511.1 L338.3,510.7 L336.0,510.6 L333.3,510.8 L330.7,509.5 L328.0,510.0 L326.0,508.7 L324.2,507.1 L323.0,505.0 L320.6,504.0 L319.0,502.0 L316.5,501.6 L314.0,501.0 L311.0,500.4 L308.0,501.0 L305.5,499.8 L302.7,499.4 L300.0,499.0 L297.0,498.3 L294.0,499.0 L291.2,499.1 L288.8,500.6 L286.1,501.1 L283.5,502.9 L280.6,503.9 L278.0,504.8 L276.1,506.7 L272.2,508.3 L269.4,509.4 L266.1,510.6 L263.9,512.8 L261.7,510.6 L260.6,508.3 L258.3,507.8 L255.0,510.0 L251.7,509.4 L248.3,506.7 L246.6,505.0 L244.4,503.9 L246.2,502.3 L248.6,502.0 L250.6,500.8 L248.9,500.0 L246.3,499.3 L243.9,498.3 L241.6,497.9 L239.4,497.2 L237.2,497.7 L235.0,497.8 L232.0,497.1 L229.4,495.6 L226.0,493.5 L223.1,493.3 L220.6,492.1 L218.0,491.0 L215.9,490.2 L214.3,488.4 L212.0,488.0 L210.0,486.7 L209.1,484.2 L207.0,483.0 L204.7,481.6 L202.9,479.8 L201.0,478.0 L199.9,475.7 L198.0,474.0 L196.3,471.9 L194.0,470.4 L191.0,470.1 L188.0,469.6 L185.4,470.4 L182.7,469.9 L180.0,470.0 L177.3,469.8 L174.7,468.8 L172.0,469.0 L169.1,470.4 L166.0,471.0 L163.4,470.2 L161.0,469.0 L158.4,469.0 L156.0,470.0 L153.2,471.6 L150.0,472.0 L147.0,472.6 L144.0,473.0 L142.8,470.7 L141.0,469.0 L140.3,466.7 L138.4,464.9 L138.0,462.5 L136.0,460.9 L134.5,458.9 L133.5,456.5 L132.0,454.5 L129.6,453.8 L128.0,452.0 L126.2,450.4 L124.3,448.9 L122.0,448.0 L119.4,447.2 L117.0,446.0 L116.0,443.8 L116.3,441.2 L115.0,439.0 L113.8,436.9 L112.1,435.2 L111.0,433.0 L109.5,431.1 L107.5,429.8 L106.0,428.0 L103.8,425.7 L102.0,423.0 L103.0,419.0 L101.7,416.5 L102.0,413.6 L101.0,411.0 L101.2,408.3 L100.5,405.6 L100.0,403.0 L100.6,400.5 L99.3,398.0 L99.6,395.5 L100.0,393.0 L100.6,390.3 L102.0,387.8 L102.0,385.0 L102.1,381.9 L101.0,379.0 L102.4,376.4 L104.0,374.0 L104.3,371.6 L105.2,369.3 L106.0,367.0 L105.7,364.7 L105.9,362.2 L105.0,360.0 L107.0,356.5 L110.0,356.0 L113.0,356.3 L115.3,356.2 L117.4,355.6 L119.5,354.8 L121.8,353.1 L123.5,350.8 L125.4,348.6 L126.7,346.0 L127.6,342.9 L128.3,339.7 L126.9,337.5 L125.9,335.0 L124.6,333.0 L123.6,330.8 L122.7,328.6 L122.5,325.9 L121.0,323.4 L121.0,320.6 L120.3,318.0 L120.9,315.3 L120.3,312.7 L119.4,310.1 L118.6,307.6 L118.7,304.8 L117.2,302.6 L117.0,300.0 L117.6,297.5 L118.0,295.0 L119.8,292.3 L122.0,290.0 L123.3,287.9 L123.8,285.5 L124.0,283.0 L123.6,280.1 L121.7,277.8 L121.0,275.0 L119.8,272.5 L119.1,269.8 L119.0,267.0 L119.0,264.3 L119.3,261.7 L119.0,259.0 L117.9,256.7 L116.7,254.5 L116.0,252.0 L117.0,248.0 L119.4,246.4 L122.0,245.0 L124.6,243.1 L127.0,241.0 L127.9,238.4 L128.7,235.8 L129.0,233.0 L130.0,230.6 L130.2,228.0 L130.0,225.4 L131.0,223.0 L130.5,219.8 L129.0,217.0 L126.8,215.7 L125.0,214.0 L127.0,211.0"/>
</g>
<path d="M138.5,167.9 L141.0,166.8 L145.0,166.6 L149.0,166.6 L151.8,168.3 L151.8,170.5 L151.0,173.4 L149.9,172.0 L149.5,170.0 L147.2,169.4 L144.0,169.4 L142.9,170.5 L142.2,173.4 L139.8,173.4 L139.3,170.5Z" fill="#595959"/>
<path d="M137.5,188.2 L140.0,187.3 L143.3,188.1 L146.6,188.8 L146.6,190.8 L144.9,192.0 L145.7,193.8 L148.0,195.8 L144.0,194.9 L140.9,193.3 L138.5,193.3 L136.9,194.9 L136.4,192.0 L137.0,190.0Z" fill="#595959"/>
<rect x="548.0" y="502.06" width="21.6" height="52.77" fill="#f7fbff"/>
<rect x="548.0" y="449.59" width="21.6" height="52.77" fill="#deebf7"/>
<rect x="548.0" y="397.12" width="21.6" height="52.77" fill="#c6dbef"/>
<rect x="548.0" y="344.65" width="21.6" height="52.77" fill="#9ecae1"/>
<rect x="548.0" y="292.18" width="21.6" height="52.77" fill="#6baed6"/>
<rect x="548.0" y="239.71" width="21.6" height="52.77" fill="#4292c6"/>
<rect x="548.0" y="187.24" width="21.6" height="52.77" fill="#2171b5"/>
<rect x="548.0" y="134.77" width="21.6" height="52.77" fill="#08519c"/>
<rect x="548.0" y="82.30" width="21.6" height="52.77" fill="#08306b"/>
<g font-size="14.67" fill="#000">
<text x="579.3" y="560.1">6.7</text>
<text x="579.3" y="507.5">73.5</text>
<text x="579.3" y="454.9">134.6</text>
<text x="579.3" y="402.4">195.7</text>
<text x="579.3" y="349.8">256.8</text>
<text x="579.3" y="297.3">317.9</text>
<text x="579.3" y="244.7">379.0</text>
<text x="579.3" y="192.2">440.1</text>
<text x="579.3" y="139.6">501.2</text>
<text x="579.3" y="87.1">563.2</text>
</g>
<g font-size="14.67" fill="#545454">
<text x="53.6" y="93.0" text-anchor="end">30S</text>
<text x="53.6" y="179.2" text-anchor="end">31S</text>
<text x="53.6" y="265.5" text-anchor="end">32S</text>
<text x="53.6" y="351.7" text-anchor="end">33S</text>
<text x="53.6" y="438.1" text-anchor="end">34S</text>
<text x="53.6" y="525.0" text-anchor="end">35S</text>
<text x="133.4" y="575.0" text-anchor="middle">58W</text>
<text x="204.4" y="575.0" text-anchor="middle">57W</text>
<text x="275.4" y="575.0" text-anchor="middle">56W</text>
<text x="346.3" y="575.0" text-anchor="middle">55W</text>
<text x="417.3" y="575.0" text-anchor="middle">54W</text>
<text x="488.3" y="575.0" text-anchor="middle">53W</text>
</g>
<g stroke="#333" stroke-width="1.1" fill="none">
<path d="M57,87.2 H60.2"/>
<path d="M57,173.4 H60.2"/>
<path d="M57,259.7 H60.2"/>
<path d="M57,345.9 H60.2"/>
<path d="M57,432.3 H60.2"/>
<path d="M57,519.2 H60.2"/>
<path d="M133.4,557.9 V560.7"/>
<path d="M204.4,557.9 V560.7"/>
<path d="M275.4,557.9 V560.7"/>
<path d="M346.3,557.9 V560.7"/>
<path d="M417.3,557.9 V560.7"/>
<path d="M488.3,557.9 V560.7"/>
</g>
</svg></body></html>
